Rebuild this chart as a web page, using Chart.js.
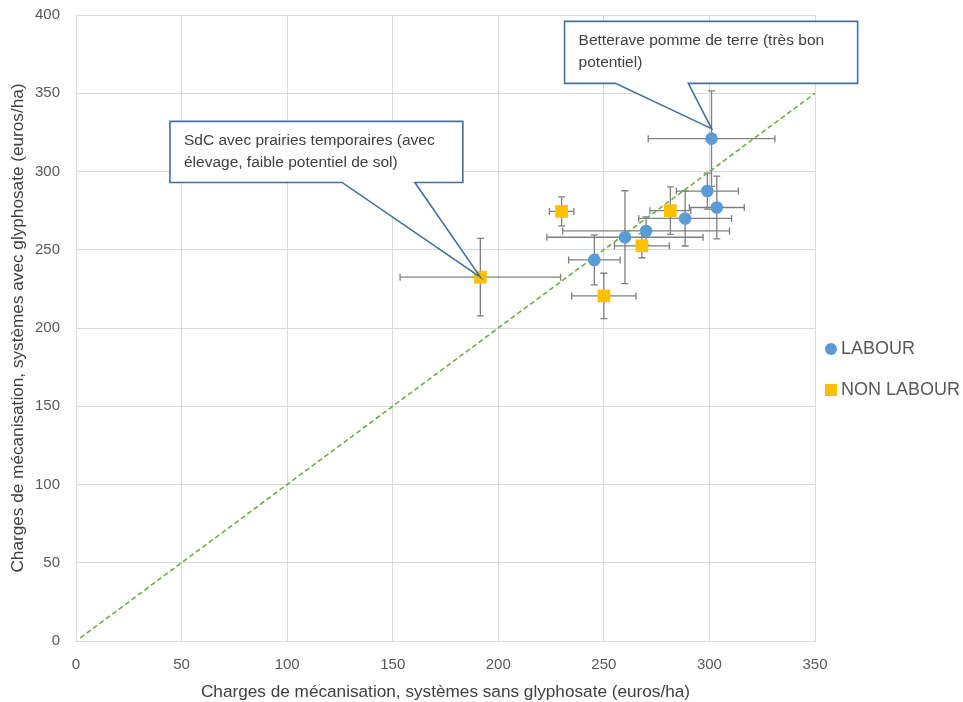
<!DOCTYPE html>
<html>
<head>
<meta charset="utf-8">
<script src="https://cdn.jsdelivr.net/npm/chart.js@4.4.1/dist/chart.umd.min.js"></script>
<style>
html,body{margin:0;padding:0;background:#fff;}
#wrap{width:963px;height:702px;position:relative;}
</style>
</head>
<body>
<div id="wrap"><canvas id="c" width="963" height="702"></canvas></div>
<script>
// ---- Data ----
const seriesNames = ["LABOUR", "NON LABOUR"];
const labourX    = [301, 299, 303.5, 288.5, 270, 260, 245.5];
const labourY    = [321, 287.5, 277, 270, 262, 258, 243.5];
const labourXErr = [30, 14.7, 13, 22, 39.5, 37, 12.2];
const labourYErr = [30.5, 11.5, 20, 17.6, 9, 29.7, 16];
const nonX       = [230, 281.5, 268, 250, 191.5];
const nonY       = [274.5, 275, 252.5, 220.5, 232.5];
const nonXErr    = [5.8, 9.7, 13, 15.2, 38];
const nonYErr    = [9.3, 15.2, 7.6, 14.5, 24.8];
const diagX      = [2, 350];
const diagY      = [2, 350];
const xTicks     = [0, 50, 100, 150, 200, 250, 300, 350];
const yTicks     = [0, 50, 100, 150, 200, 250, 300, 350, 400];
const xTitle = "Charges de mécanisation, systèmes sans glyphosate (euros/ha)";
const yTitle = "Charges de mécanisation, systèmes avec glyphosate (euros/ha)";
const callouts = [
  {text: ["SdC avec prairies temporaires (avec", "élevage, faible potentiel de sol)"], series: 1, index: 4,
   box: {x0: 44.5, x1: 183.2, y0: 332, y1: 293}, base: [126, 160.5], tipDy: 0},
  {text: ["Betterave pomme de terre (très bon", "potentiel)"], series: 0, index: 0,
   box: {x0: 231.4, x1: 370.2, y0: 395.9, y1: 356.3}, base: [255.5, 290], tipDy: -10}
];

const FONT = "'Liberation Sans', Arial, sans-serif";
const BLUE = "#5B9BD5", GOLD = "#FFC000", ERR = "#7F7F7F";

function pts(xs, ys) { return xs.map((x, i) => ({x: x, y: ys[i]})); }

const errorBars = {
  id: 'errorBars',
  beforeDatasetsDraw(chart) {
    const {ctx, scales: {x, y}} = chart;
    const sets = [[labourX, labourY, labourXErr, labourYErr], [nonX, nonY, nonXErr, nonYErr]];
    ctx.save();
    ctx.strokeStyle = ERR;
    ctx.lineWidth = 1.3;
    const cap = 3.5;
    sets.forEach(([xs, ys, xe, ye]) => {
      xs.forEach((xv, i) => {
        const px = x.getPixelForValue(xv), py = y.getPixelForValue(ys[i]);
        const xl = x.getPixelForValue(xv - xe[i]), xr = x.getPixelForValue(xv + xe[i]);
        const yt = y.getPixelForValue(ys[i] + ye[i]), yb = y.getPixelForValue(ys[i] - ye[i]);
        ctx.beginPath();
        ctx.moveTo(xl, py); ctx.lineTo(xr, py);
        ctx.moveTo(xl, py - cap); ctx.lineTo(xl, py + cap);
        ctx.moveTo(xr, py - cap); ctx.lineTo(xr, py + cap);
        ctx.moveTo(px, yt); ctx.lineTo(px, yb);
        ctx.moveTo(px - cap, yt); ctx.lineTo(px + cap, yt);
        ctx.moveTo(px - cap, yb); ctx.lineTo(px + cap, yb);
        ctx.stroke();
      });
    });
    ctx.restore();
  }
};

const calloutPlugin = {
  id: 'callouts',
  afterDatasetsDraw(chart) {
    const {ctx, scales: {x, y}} = chart;
    const sx = [labourX, nonX], sy = [labourY, nonY];
    ctx.save();
    callouts.forEach(c => {
      const l = x.getPixelForValue(c.box.x0), r = x.getPixelForValue(c.box.x1);
      const t = y.getPixelForValue(c.box.y0), b = y.getPixelForValue(c.box.y1);
      const tx = x.getPixelForValue(sx[c.series][c.index]);
      const ty = y.getPixelForValue(sy[c.series][c.index]) + c.tipDy;
      const b1 = x.getPixelForValue(c.base[0]), b2 = x.getPixelForValue(c.base[1]);
      ctx.beginPath();
      ctx.moveTo(l, t); ctx.lineTo(r, t); ctx.lineTo(r, b);
      ctx.lineTo(b2, b); ctx.lineTo(tx, ty); ctx.lineTo(b1, b);
      ctx.lineTo(l, b); ctx.closePath();
      ctx.fillStyle = "#fff"; ctx.fill();
      ctx.strokeStyle = "#41719C"; ctx.lineWidth = 1.6; ctx.lineJoin = 'miter';
      ctx.stroke();
      ctx.fillStyle = "#404040";
      ctx.font = "15.5px " + FONT;
      ctx.textBaseline = 'middle';
      ctx.textAlign = 'left';
      c.text.forEach((line, k) => ctx.fillText(line, l + 14, t + 19 + k * 22));
    });
    ctx.restore();
  }
};

const legendPlugin = {
  id: 'customLegend',
  afterDraw(chart) {
    const {ctx, chartArea} = chart;
    const lx = chartArea.right + 16;
    const rows = [{name: seriesNames[0], color: BLUE, shape: 'circle'}, {name: seriesNames[1], color: GOLD, shape: 'rect'}];
    ctx.save();
    ctx.font = "18px " + FONT;
    ctx.textBaseline = 'middle';
    rows.forEach((r, i) => {
      const cy = chartArea.top + 334 + i * 41;
      ctx.fillStyle = r.color;
      if (r.shape === 'circle') { ctx.beginPath(); ctx.arc(lx, cy, 6, 0, Math.PI * 2); ctx.fill(); }
      else { ctx.fillRect(lx - 6, cy - 6, 12, 12); }
      ctx.fillStyle = "#595959";
      ctx.fillText(r.name, lx + 10, cy);
    });
    ctx.restore();
  }
};

new Chart(document.getElementById('c'), {
  type: 'scatter',
  data: {
    datasets: [
      {label: seriesNames[0], data: pts(labourX, labourY), backgroundColor: BLUE, borderColor: BLUE,
       pointStyle: 'circle', pointRadius: 6.3, pointHoverRadius: 6.3, borderWidth: 0, order: 1},
      {label: seriesNames[1], data: pts(nonX, nonY), backgroundColor: GOLD, borderColor: GOLD,
       pointStyle: 'rect', pointRadius: 9, pointHoverRadius: 9, borderWidth: 0, order: 1},
      {type: 'line', label: 'diag', data: pts(diagX, diagY), borderColor: "#70AD47", borderWidth: 1.6,
       borderDash: [5, 3], pointRadius: 0, fill: false, order: 2}
    ]
  },
  options: {
    responsive: false,
    animation: false,
    events: [],
    layout: {padding: {top: 15, right: 148, left: 0, bottom: 0}},
    plugins: {legend: {display: false}, tooltip: {enabled: false}},
    scales: {
      x: {
        type: 'linear', min: 0, max: 350,
        afterBuildTicks: s => { s.ticks = xTicks.map(v => ({value: v})); },
        afterFit: s => { s.height = 61; s.paddingLeft = 0; s.paddingRight = 0; },
        grid: {color: "#D9D9D9", lineWidth: 1, drawTicks: false},
        border: {color: "#D9D9D9"},
        ticks: {color: "#595959", font: {family: FONT, size: 15}, padding: 15, maxRotation: 0},
        title: {display: true, text: xTitle, color: "#404040", font: {family: FONT, size: 17.2}, padding: {top: 4, bottom: -1}}
      },
      y: {
        type: 'linear', min: 0, max: 400,
        afterBuildTicks: s => { s.ticks = yTicks.map(v => ({value: v})); },
        afterFit: s => { s.width = 76; s.paddingTop = 0; s.paddingBottom = 0; },
        grid: {color: "#D9D9D9", lineWidth: 1, drawTicks: false},
        border: {color: "#D9D9D9"},
        ticks: {color: "#595959", font: {family: FONT, size: 15}, padding: 16},
        title: {display: true, text: yTitle, color: "#404040", font: {family: FONT, size: 17.2}, padding: {top: 8, bottom: 4}}
      }
    }
  },
  plugins: [errorBars, calloutPlugin, legendPlugin]
});
</script>
</body>
</html>
